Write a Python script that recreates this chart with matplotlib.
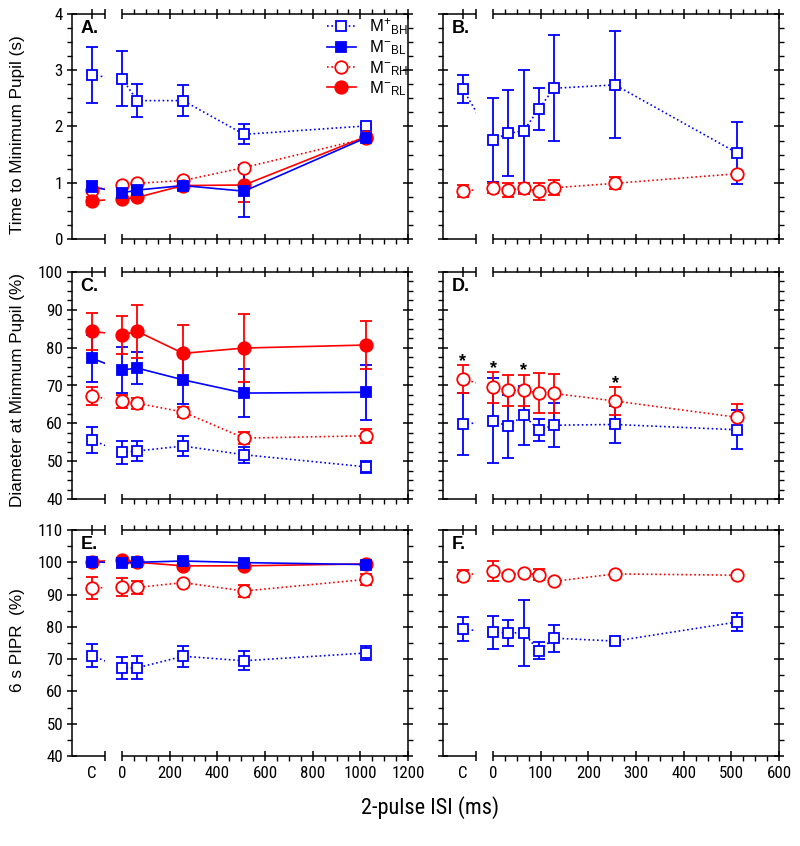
import matplotlib
matplotlib.use("Agg")
import matplotlib.pyplot as plt
import numpy as np
from matplotlib.patches import Rectangle
from matplotlib.lines import Line2D
from matplotlib.ticker import FixedLocator, NullFormatter
from matplotlib.textpath import TextPath
from matplotlib.font_manager import FontProperties, fontManager
import matplotlib.transforms as mtransforms

# ---------------- data ----------------
ISI_L = [0, 64, 256, 512, 1024]
ISI_R = [0, 32, 64, 96, 128, 256, 512]

# Panel A: time to minimum pupil (s)
A_BH_c, A_BH_ce = 2.91, 0.50
A_BH = [2.85, 2.46, 2.46, 1.86, 2.01]
A_BH_e = [0.49, 0.30, 0.27, 0.18, 0.03]
A_BL_c, A_BL_ce = 0.93, 0.10
A_BL = [0.82, 0.87, 0.95, 0.85, 1.80]
A_BL_e = [0.05, 0.04, 0.06, 0.46, 0.03]
A_RH_c, A_RH_ce = 0.87, 0.06
A_RH = [0.96, 0.99, 1.04, 1.27, 1.79]
A_RH_e = [0.04, 0.03, 0.03, 0.04, 0.03]
A_RL_c, A_RL_ce = 0.68, 0.07
A_RL = [0.71, 0.74, 0.95, 0.96, 1.82]
A_RL_e = [0.04, 0.04, 0.03, 0.31, 0.03]

# Panel B
B_BH_c, B_BH_ce = 2.66, 0.25
B_BH = [1.76, 1.88, 1.92, 2.31, 2.68, 2.74, 1.53]
B_BH_e = [0.75, 0.76, 1.09, 0.38, 0.94, 0.95, 0.55]
B_RH_c, B_RH_ce = 0.85, 0.11
B_RH = [0.91, 0.87, 0.90, 0.85, 0.91, 0.99, 1.16]
B_RH_e = [0.09, 0.12, 0.10, 0.15, 0.13, 0.11, 0.03]

# Panel C: diameter at minimum pupil (%)
C_BH_c, C_BH_ce = 55.6, 3.5
C_BH = [52.3, 52.7, 54.0, 51.7, 48.5]
C_BH_e = [3.0, 2.6, 2.7, 2.1, 1.6]
C_BL_c, C_BL_ce = 77.2, 6.2
C_BL = [74.1, 74.6, 71.5, 68.0, 68.2]
C_BL_e = [6.2, 4.2, 6.5, 6.3, 7.3]
C_RH_c, C_RH_ce = 67.2, 2.4
C_RH = [65.8, 65.3, 63.0, 56.1, 56.7]
C_RH_e = [1.8, 1.5, 1.4, 1.6, 1.8]
C_RL_c, C_RL_ce = 84.3, 4.8
C_RL = [83.4, 84.3, 78.5, 79.9, 80.7]
C_RL_e = [5.0, 7.1, 7.6, 9.0, 6.3]

# Panel D
D_RH_c, D_RH_ce = 71.7, 3.6
D_RH = [69.5, 68.7, 68.8, 68.0, 67.9, 65.9, 61.6]
D_RH_e = [4.0, 4.1, 4.1, 5.2, 5.2, 3.6, 3.4]
D_BH_c, D_BH_ce = 59.7, 8.2
D_BH = [60.7, 59.2, 62.1, 58.3, 59.5, 59.7, 58.3]
D_BH_e = [11.2, 8.4, 7.7, 2.9, 5.8, 5.0, 5.1]
D_star_C = True
D_star_isi = [0, 64, 256]

# Panel E: 6 s PIPR (%)
E_BH_c, E_BH_ce = 71.1, 3.5
E_BH = [67.3, 67.3, 70.9, 69.5, 71.9]
E_BH_e = [3.3, 3.6, 3.2, 3.0, 2.3]
E_BL_c, E_BL_ce = 100.2, 0.4
E_BL = [99.7, 100.0, 100.4, 99.9, 99.3]
E_BL_e = [0.4, 0.4, 0.5, 0.5, 1.0]
E_RH_c, E_RH_ce = 92.0, 3.4
E_RH = [92.4, 92.2, 93.7, 91.1, 94.7]
E_RH_e = [2.7, 2.1, 0.5, 2.0, 1.7]
E_RL_c, E_RL_ce = 100.2, 0.4
E_RL = [100.7, 100.0, 98.9, 98.9, 99.5]
E_RL_e = [0.4, 0.4, 1.0, 1.0, 0.5]

# Panel F
F_RH_c, F_RH_ce = 95.9, 1.6
F_RH = [97.3, 96.2, 96.6, 96.2, 94.1, 96.4, 96.0]
F_RH_e = [3.0, 0.3, 0.3, 1.7, 0.3, 0.3, 0.3]
F_BH_c, F_BH_ce = 79.3, 3.7
F_BH = [78.3, 78.1, 78.2, 72.6, 76.5, 75.6, 81.5]
F_BH_e = [5.2, 4.1, 10.2, 2.7, 4.2, 0.3, 2.9]

legend_labels = [r'M$^{+}$$_{\mathrm{BH}}$', r'M$^{-}$$_{\mathrm{BL}}$',
                 r'M$^{-}$$_{\mathrm{RH}}$', r'M$^{-}$$_{\mathrm{RL}}$']
ylabels = ['Time to Minimum Pupil (s)', 'Diameter at Minmum Pupil (%)', '6 s PIPR  (%)']
xlabel = '2-pulse ISI (ms)'

# ---------------- fonts ----------------
REG = ['Liberation Sans', 'DejaVu Sans']
names = sorted({f.name for f in fontManager.ttflist})
narrow_name = None
for cand in ['Liberation Sans Narrow', 'Arial Narrow', 'Roboto Condensed',
             'Open Sans Condensed', 'DejaVu Sans Condensed']:
    if cand in names:
        narrow_name = cand
        break
if narrow_name is None:
    for n in names:
        if 'Narrow' in n or 'Condensed' in n:
            narrow_name = n
            break
NARROW = [narrow_name, 'Liberation Sans', 'DejaVu Sans'] if narrow_name else REG

def fit_size(text, family, target_px, maxsize):
    tp = TextPath((0, 0), text, size=10, prop=FontProperties(family=family))
    w = tp.get_extents().width / 10.0  # points per 1pt font
    s = target_px * 72.0 / 100.0 / w
    return min(s, maxsize)

TICK_FS = fit_size('1200', NARROW, 31, 12.6)
XLAB_FS = fit_size(xlabel, NARROW, 135, 17)

plt.rcParams['font.family'] = REG
plt.rcParams['mathtext.fontset'] = 'custom'
plt.rcParams['mathtext.rm'] = 'Liberation Sans'
plt.rcParams['mathtext.it'] = 'Liberation Sans'

BLUE = '#0000ff'
RED = '#ff0000'
DOT = (0, (1.0, 1.6))

STY = {
    'BH': dict(color=BLUE, marker='s', filled=False, ls=DOT, ms=7.5),
    'BL': dict(color=BLUE, marker='s', filled=True, ls='-', ms=7.5),
    'RH': dict(color=RED, marker='o', filled=False, ls=DOT, ms=9),
    'RL': dict(color=RED, marker='o', filled=True, ls='-', ms=9),
}

fig = plt.figure(figsize=(8.0, 8.46), dpi=100)
W, H = 800.0, 846.0

def make_ax(x0, y0, x1, y1):
    return fig.add_axes([x0 / W, 1 - y1 / H, (x1 - x0) / W, (y1 - y0) / H])

rows = [(14, 239), (272, 499), (530, 756)]
cols = [(72, 408), (443, 779)]

LEFT = dict(xmin=-210.0, xmax=1200.0, brk=-71.5, cx=-126.0, major=200, minor=50, isi=ISI_L)
RIGHT = dict(xmin=-104.9, xmax=600.0, brk=-35.7, cx=-63.0, major=100, minor=25, isi=ISI_R)

def setup(ax, cfg, ylim, ymaj, ymin_step, bottom_labels):
    ax.set_xlim(cfg['xmin'], cfg['xmax'])
    ax.set_ylim(*ylim)
    for s in ['top', 'bottom']:
        ax.spines[s].set_visible(False)
    for s in ['left', 'right']:
        ax.spines[s].set_linewidth(1.1)
    tr = mtransforms.blended_transform_factory(ax.transData, ax.transAxes)
    for yy in (0, 1):
        ax.plot([cfg['xmin'], cfg['brk']], [yy, yy], color='k', lw=1.1, transform=tr,
                clip_on=False, solid_capstyle='butt')
        ax.plot([0, cfg['xmax']], [yy, yy], color='k', lw=1.1, transform=tr,
                clip_on=False, solid_capstyle='butt')
    majors = list(np.arange(0, cfg['xmax'] + 1, cfg['major']))
    xt = [cfg['cx'], cfg['brk']] + majors
    ax.xaxis.set_major_locator(FixedLocator(xt))
    if bottom_labels:
        ax.set_xticklabels(['C', ''] + ['%d' % m for m in majors])
    else:
        ax.set_xticklabels([''] * len(xt))
    minors = [m for m in np.arange(0, cfg['xmax'] + 1, cfg['minor']) if m % cfg['major'] != 0]
    ax.xaxis.set_minor_locator(FixedLocator(minors))
    ax.xaxis.set_minor_formatter(NullFormatter())
    ticks = ax.xaxis.get_major_ticks()
    ticks[0].tick1line.set_visible(False)
    ticks[0].tick2line.set_visible(False)
    yt = np.arange(ylim[0], ylim[1] + 1e-9, ymaj)
    ax.set_yticks(yt)
    ax.yaxis.set_minor_locator(FixedLocator(np.arange(ylim[0], ylim[1] + 1e-9, ymin_step)))
    ax.tick_params(which='major', direction='inout', length=7, width=1.1,
                   top=True, right=True, labelsize=TICK_FS, pad=3)
    ax.tick_params(which='minor', direction='out', length=3.5, width=1.0,
                   top=True, right=True)
    ax.tick_params(axis='x', which='major', pad=4)
    for lab in ax.get_xticklabels() + ax.get_yticklabels():
        lab.set_family(NARROW)
    return tr

def series(ax, cfg, tr, key, cy, ce, ys, es):
    st = STY[key]
    mfc = st['color'] if st['filled'] else 'white'
    common = dict(color=st['color'], marker=st['marker'], mfc=mfc, mec=st['color'],
                  ms=st['ms'], mew=1.3, capsize=4.2, capthick=1.3, elinewidth=1.3, clip_on=False)
    xs = cfg['isi']
    ln, = ax.plot([cfg['cx'], xs[0]], [cy, ys[0]], color=st['color'], ls=st['ls'], lw=1.2)
    ln.set_clip_path(Rectangle((cfg['xmin'], 0), cfg['brk'] - cfg['xmin'], 1, transform=tr))
    ax.errorbar(xs, ys, yerr=es, ls=st['ls'], lw=1.2, **common)
    ax.errorbar([cfg['cx']], [cy], yerr=[ce], ls='none', **common)

def letter(ax, t):
    ax.text(0.025, 0.935, t, transform=ax.transAxes, fontsize=13, fontweight='bold',
            va='center', ha='left', family=REG)

# ----- Panel A -----
axA = make_ax(cols[0][0], rows[0][0], cols[0][1], rows[0][1])
trA = setup(axA, LEFT, (0, 4), 1, 0.25, False)
series(axA, LEFT, trA, 'BH', A_BH_c, A_BH_ce, A_BH, A_BH_e)
series(axA, LEFT, trA, 'RH', A_RH_c, A_RH_ce, A_RH, A_RH_e)
series(axA, LEFT, trA, 'RL', A_RL_c, A_RL_ce, A_RL, A_RL_e)
series(axA, LEFT, trA, 'BL', A_BL_c, A_BL_ce, A_BL, A_BL_e)
letter(axA, 'A.')
handles = []
for key in ['BH', 'BL', 'RH', 'RL']:
    st = STY[key]
    handles.append(Line2D([], [], color=st['color'], ls=st['ls'], lw=1.2, marker=st['marker'],
                          mfc=st['color'] if st['filled'] else 'white', mec=st['color'],
                          ms=st['ms'], mew=1.3))
leg = axA.legend(handles, legend_labels, loc='upper left', bbox_to_anchor=(0.745, 1.01),
                 frameon=False, fontsize=12, handlelength=1.7, handletextpad=0.8,
                 labelspacing=0.08, borderpad=0.3, borderaxespad=0)

# ----- Panel B -----
axB = make_ax(cols[1][0], rows[0][0], cols[1][1], rows[0][1])
trB = setup(axB, RIGHT, (0, 4), 1, 0.25, False)
axB.set_yticklabels([])
series(axB, RIGHT, trB, 'BH', B_BH_c, B_BH_ce, B_BH, B_BH_e)
series(axB, RIGHT, trB, 'RH', B_RH_c, B_RH_ce, B_RH, B_RH_e)
letter(axB, 'B.')

# ----- Panel C -----
axC = make_ax(cols[0][0], rows[1][0], cols[0][1], rows[1][1])
trC = setup(axC, LEFT, (40, 100), 10, 2.5, False)
series(axC, LEFT, trC, 'BH', C_BH_c, C_BH_ce, C_BH, C_BH_e)
series(axC, LEFT, trC, 'RH', C_RH_c, C_RH_ce, C_RH, C_RH_e)
series(axC, LEFT, trC, 'BL', C_BL_c, C_BL_ce, C_BL, C_BL_e)
series(axC, LEFT, trC, 'RL', C_RL_c, C_RL_ce, C_RL, C_RL_e)
letter(axC, 'C.')

# ----- Panel D -----
axD = make_ax(cols[1][0], rows[1][0], cols[1][1], rows[1][1])
trD = setup(axD, RIGHT, (40, 100), 10, 2.5, False)
axD.set_yticklabels([])
series(axD, RIGHT, trD, 'BH', D_BH_c, D_BH_ce, D_BH, D_BH_e)
series(axD, RIGHT, trD, 'RH', D_RH_c, D_RH_ce, D_RH, D_RH_e)
letter(axD, 'D.')
star_pts = []
if D_star_C:
    star_pts.append((RIGHT['cx'], D_RH_c + D_RH_ce))
for s in D_star_isi:
    i = ISI_R.index(s)
    star_pts.append((s, D_RH[i] + D_RH_e[i]))
for sx, sy in star_pts:
    axD.annotate('*', (sx, sy), xytext=(0, -0.5), textcoords='offset points',
                 ha='center', va='baseline', fontsize=13, fontweight='bold', family=REG)

# ----- Panel E -----
axE = make_ax(cols[0][0], rows[2][0], cols[0][1], rows[2][1])
trE = setup(axE, LEFT, (40, 110), 10, 5, True)
series(axE, LEFT, trE, 'BH', E_BH_c, E_BH_ce, E_BH, E_BH_e)
series(axE, LEFT, trE, 'RH', E_RH_c, E_RH_ce, E_RH, E_RH_e)
series(axE, LEFT, trE, 'RL', E_RL_c, E_RL_ce, E_RL, E_RL_e)
series(axE, LEFT, trE, 'BL', E_BL_c, E_BL_ce, E_BL, E_BL_e)
letter(axE, 'E.')

# ----- Panel F -----
axF = make_ax(cols[1][0], rows[2][0], cols[1][1], rows[2][1])
trF = setup(axF, RIGHT, (40, 110), 10, 5, True)
axF.set_yticklabels([])
series(axF, RIGHT, trF, 'BH', F_BH_c, F_BH_ce, F_BH, F_BH_e)
series(axF, RIGHT, trF, 'RH', F_RH_c, F_RH_ce, F_RH, F_RH_e)
letter(axF, 'F.')

# ----- axis labels -----
fig.text(18 / W, 1 - 135 / H, ylabels[0], rotation=90, ha='center', va='center', fontsize=12.3)
fig.text(18 / W, 1 - 390 / H, ylabels[1], rotation=90, ha='center', va='center', fontsize=12.3)
fig.text(18 / W, 1 - 640 / H, ylabels[2], rotation=90, ha='center', va='center', fontsize=12.3)
fig.text(430 / W, 1 - 808 / H, xlabel, ha='center', va='center', fontsize=XLAB_FS, family=NARROW)

fig.savefig('out.png', dpi=100)
